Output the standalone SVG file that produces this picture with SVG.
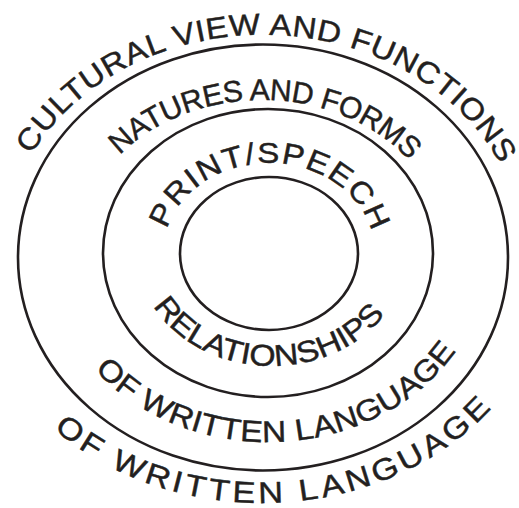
<svg xmlns="http://www.w3.org/2000/svg" xmlns:xlink="http://www.w3.org/1999/xlink" width="519" height="508" viewBox="0 0 519 508">
<style>
.ring{fill:none;stroke:#231f20;stroke-width:2.6}
.lbl{font-family:"Liberation Sans",Arial,Helvetica,sans-serif;font-size:30px;fill:#231f20;stroke:#231f20;stroke-width:0.45}
</style>
<defs>
<path id="p1" d="M31.2,154.8 A261,222 0 0 1 500.5,164.9"/>
<path id="p2" d="M119.9,155.1 A185,153 0 0 1 409.2,160.3"/>
<path id="p3" d="M167,229.2 A106,91 0 0 1 372,232.6"/>
<path id="p4" d="M153.3,305.9 A134,112 0 0 0 385,314.1"/>
<path id="p5" d="M95,369.8 A220,189 0 0 0 457,349.8"/>
<path id="p6" d="M54,429 A291,246 0 0 0 494,405.6"/>
</defs>
<rect width="519" height="508" fill="#ffffff"/>
<g id="outer-ring">
<ellipse class="ring" cx="263" cy="257.5" rx="245" ry="213"/>
<text class="lbl" letter-spacing="0.5"><textPath xlink:href="#p1" href="#p1" textLength="556" lengthAdjust="spacingAndGlyphs">CULTURAL VIEW AND FUNCTIONS</textPath></text>
<text class="lbl" letter-spacing="3.2"><textPath xlink:href="#p6" href="#p6" textLength="484" lengthAdjust="spacingAndGlyphs">OF WRITTEN LANGUAGE</textPath></text>
</g>
<g id="middle-ring">
<ellipse class="ring" cx="268" cy="253" rx="165" ry="144"/>
<text class="lbl"><textPath xlink:href="#p2" href="#p2" textLength="320" lengthAdjust="spacing">NATURES AND FORMS</textPath></text>
<text class="lbl" letter-spacing="0.3"><textPath xlink:href="#p5" href="#p5" textLength="410" lengthAdjust="spacingAndGlyphs">OF WRITTEN LANGUAGE</textPath></text>
</g>
<g id="inner-ring">
<ellipse class="ring" cx="269" cy="253.5" rx="89" ry="76.5"/>
<text class="lbl" letter-spacing="1.4"><textPath xlink:href="#p3" href="#p3" textLength="263" lengthAdjust="spacingAndGlyphs">PRINT/SPEECH</textPath></text>
<text class="lbl"><textPath xlink:href="#p4" href="#p4" textLength="267" lengthAdjust="spacingAndGlyphs">RELATIONSHIPS</textPath></text>
</g>
<g id="connectors"></g>
</svg>
